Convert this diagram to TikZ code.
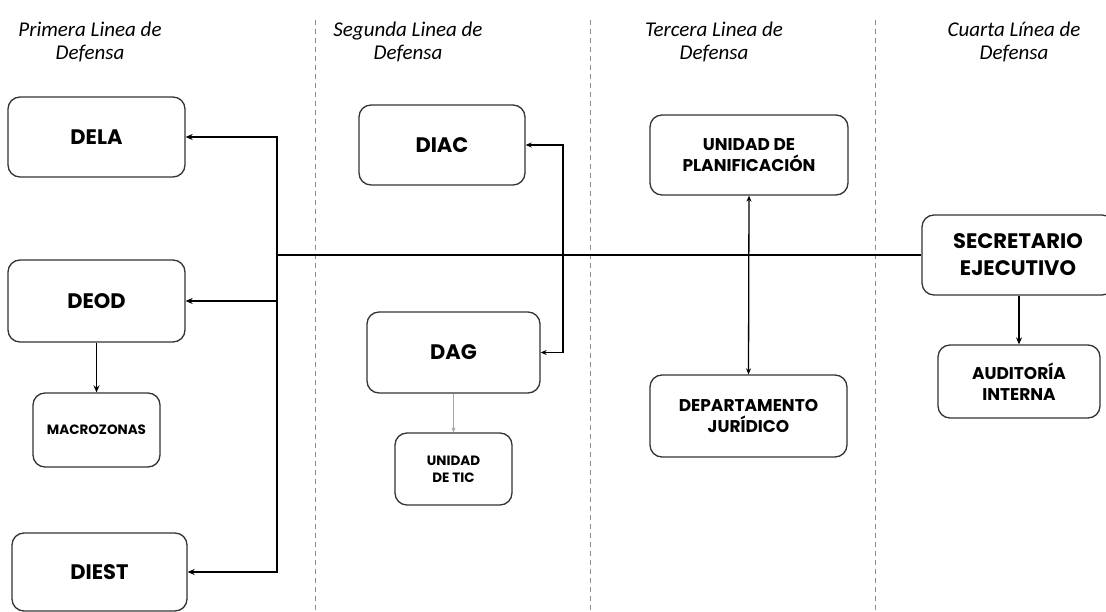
\documentclass[tikz,border=0pt]{standalone}
\usepackage{fontspec}
\setmainfont{Poppins}
\newfontfamily\headfont{Carlito}
\usetikzlibrary{arrows.meta}

\tikzset{
    unit/.style = {draw = black!80, line width = 1.3pt, rounded corners = 12pt,
        inner sep = 0pt, align = center, font = \bfseries\fontsize{21}{27}\selectfont},
    midunit/.style = {unit, font = \bfseries\fontsize{17}{21}\selectfont},
    smallunit/.style = {unit, font = \bfseries\fontsize{13.5}{17}\selectfont},
    head/.style = {align = center, font = \headfont\itshape\fontsize{21}{23}\selectfont},
    link/.style = {line width = 1.6pt, -{Stealth[length = 7pt, width = 6pt]}},
    duallink/.style = {line width = 1.3pt, {Stealth[length = 6pt, width = 5pt]}-{Stealth[length = 6pt, width = 5pt]}},
    sep/.style = {black!45, line width = 0.8pt, dash pattern = on 5pt off 4pt}
}

\begin{document}
\begin{tikzpicture}[x = 1pt, y = -1pt]
    \clip (0,0) rectangle (1106,612);
    \fill[white] (0,0) rectangle (1106,612);

    \draw[sep] (315,20) -- (315,612);
    \draw[sep] (590,20) -- (590,612);
    \draw[sep] (875,20) -- (875,612);

    \node (h1) at (90,41.5) [head] {Primera Linea de\\Defensa};
    \node (h2) at (408,41.5) [head] {Segunda Linea de\\Defensa};
    \node (h3) at (714,41.5) [head] {Tercera Linea de\\Defensa};
    \node (h4) at (1014,41.5) [head] {Cuarta L\'inea de\\Defensa};

    \node (dela) at (96.5,137) [unit, minimum width = 177, minimum height = 80] {DELA};
    \node (deod) at (96.5,301) [unit, minimum width = 177, minimum height = 82] {DEOD};
    \node (macro) at (96.5,430) [smallunit, minimum width = 127, minimum height = 74] {MACROZONAS};
    \node (diest) at (99.5,572) [unit, minimum width = 175, minimum height = 78] {DIEST};

    \node (diac) at (442,145) [unit, minimum width = 166, minimum height = 80] {DIAC};
    \node (dag) at (453.5,352.5) [unit, minimum width = 173, minimum height = 81] {DAG};
    \node (tic) at (453.5,469) [smallunit, minimum width = 117, minimum height = 72] {UNIDAD\\DE TIC};

    \node (plan) at (749,155) [midunit, minimum width = 198, minimum height = 80] {UNIDAD DE\\PLANIFICACIÓN};
    \node (dept) at (748.5,416) [midunit, minimum width = 197, minimum height = 82] {DEPARTAMENTO\\JURÍDICO};

    \node (sec) at (1018,255) [unit, minimum width = 192, minimum height = 80] {SECRETARIO\\EJECUTIVO};
    \node (aud) at (1019,381.5) [midunit, minimum width = 162, minimum height = 73] {AUDITORÍA\\INTERNA};

    \coordinate (trunk) at (277,255);
    \coordinate (tie) at (563,250);

    \draw[line width = 2.2pt] (sec.west) -- (trunk);
    \draw[link] (trunk) |- (dela.east);
    \draw[link] (trunk) |- (deod.east);
    \draw[link] (trunk) |- (diest.east);
    \draw[link] (deod.south) -- (macro.north);

    \draw[duallink] (diac.east) -- (diac.east -| tie) -- (dag.east -| tie) -- (dag.east);
    \draw[black!35, line width = 0.8pt, -{Stealth[length = 5pt, width = 4pt]}] (dag.south) -- (tic.north);

    \draw[duallink] (plan.south) -- (dept.north);
    \draw[link] (aud.north |- sec.south) -- (aud.north);
\end{tikzpicture}
\end{document}
